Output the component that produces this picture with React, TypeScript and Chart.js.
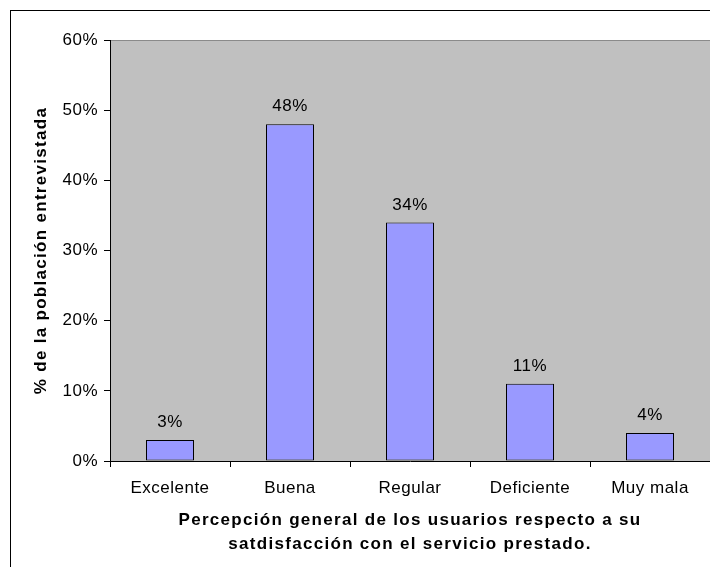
import React, { useEffect, useRef } from "react";
import { Chart, registerables } from "chart.js";

Chart.register(...registerables);

const categories = ["Excelente", "Buena", "Regular", "Deficiente", "Muy mala"];
const percentages = [3, 48, 34, 11, 4];
const yTickMax = 60;
const yTickStep = 10;
const xTitle = [
  "Percepción general de los usuarios respecto a su",
  "satdisfacción con el servicio prestado.",
];
const yTitle = "% de la población entrevistada";

const FONT = "'Liberation Sans', Arial, Helvetica, sans-serif";

// Gray plot background, frame line and outer border; also wide letter spacing for the axis titles
const framePlugin = {
  id: "frame",
  beforeDraw(chart: any) {
    const { ctx, chartArea } = chart;
    ctx.save();
    ctx.fillStyle = "#ffffff";
    ctx.fillRect(0, 0, chart.width, chart.height);
    ctx.fillStyle = "#C0C0C0";
    ctx.fillRect(chartArea.left, chartArea.top, chartArea.right - chartArea.left, chartArea.bottom - chartArea.top);
    ctx.strokeStyle = "#8a8a8a";
    ctx.lineWidth = 1;
    ctx.beginPath();
    ctx.moveTo(chartArea.left, chartArea.top + 0.5);
    ctx.lineTo(chartArea.right, chartArea.top + 0.5);
    ctx.stroke();
    ctx.strokeStyle = "#000000";
    ctx.strokeRect(10.5, 10.5, chart.width + 20, chart.height + 20);
    ctx.restore();
    ctx.letterSpacing = "1.3px";
  },
  afterDatasetsDraw(chart: any) {
    const { ctx } = chart;
    ctx.letterSpacing = "0.5px";
    // value labels above each bar
    const meta = chart.getDatasetMeta(0);
    ctx.save();
    ctx.font = `17px ${FONT}`;
    ctx.fillStyle = "#000000";
    ctx.textAlign = "center";
    ctx.textBaseline = "middle";
    meta.data.forEach((bar: any, i: number) => {
      ctx.fillText(`${percentages[i]}%`, bar.x, bar.y - 17.5);
    });
    ctx.restore();
  },
  afterDraw(chart: any) {
    chart.ctx.letterSpacing = "0px";
  },
};

export default function App() {
  const canvasRef = useRef<HTMLCanvasElement | null>(null);

  useEffect(() => {
    const canvas = canvasRef.current;
    if (!canvas) return;
    const chart = new Chart(canvas, {
      type: "bar",
      data: {
        labels: categories,
        datasets: [
          {
            data: percentages,
            backgroundColor: "#9999FF",
            borderColor: "#000000",
            borderWidth: 1,
            borderSkipped: false,
            barPercentage: 0.4,
            categoryPercentage: 1,
          },
        ],
      },
      options: {
        responsive: false,
        animation: false,
        events: [],
        layout: { padding: { left: 10, top: 40, right: 0, bottom: 0 } },
        plugins: {
          legend: { display: false },
          tooltip: { enabled: false },
          title: { display: false },
        },
        scales: {
          x: {
            grid: {
              offset: true,
              drawOnChartArea: false,
              drawTicks: true,
              tickLength: 6,
              color: "#000000",
            },
            border: { display: true, color: "#000000", width: 1 },
            ticks: {
              color: "#000000",
              font: { family: FONT, size: 17 },
              padding: 11,
              maxRotation: 0,
              autoSkip: false,
              z: 1,
            },
            title: {
              display: true,
              text: xTitle,
              color: "#000000",
              font: { family: FONT, size: 17, weight: "bold", lineHeight: 1.45 },
              padding: { top: 4, bottom: 10 },
            },
            afterFit(scale: any) {
              scale.height = 106;
            },
          },
          y: {
            min: 0,
            max: yTickMax,
            grid: {
              drawOnChartArea: false,
              drawTicks: true,
              tickLength: 6,
              color: "#000000",
            },
            border: { display: true, color: "#000000", width: 1 },
            ticks: {
              stepSize: yTickStep,
              color: "#000000",
              font: { family: FONT, size: 17 },
              padding: 6,
              z: 1,
              callback: (v: any) => `${v}%`,
            },
            title: {
              display: true,
              text: yTitle,
              color: "#000000",
              font: { family: FONT, size: 17, weight: "bold", lineHeight: 1.45 },
              padding: { top: 19, bottom: 4 },
            },
            afterFit(scale: any) {
              scale.width = 100;
            },
          },
        },
      },
      plugins: [framePlugin],
    });
    return () => chart.destroy();
  }, []);

  return (
    <div style={{ position: "fixed", left: 0, top: 0, width: 710, height: 567, background: "#ffffff" }}>
      <canvas ref={canvasRef} width={710} height={567} style={{ display: "block" }} />
    </div>
  );
}
